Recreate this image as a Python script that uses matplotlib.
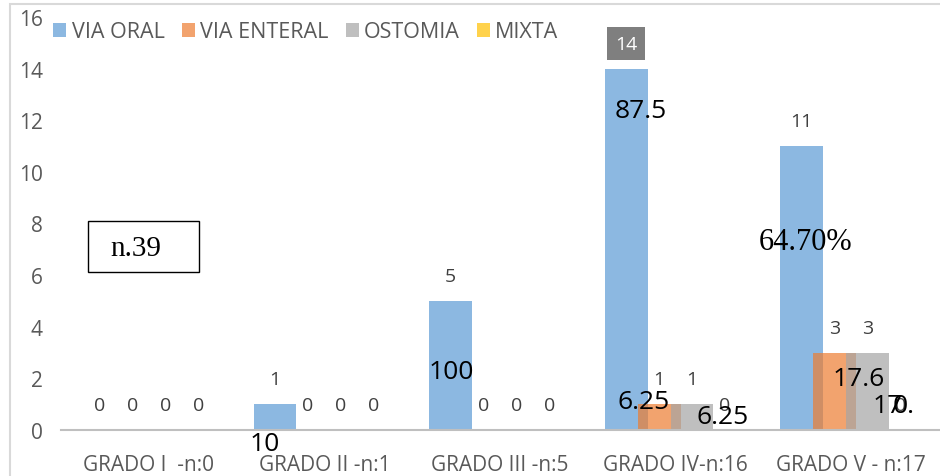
import numpy as np
import matplotlib
matplotlib.use('Agg')
import matplotlib.pyplot as plt
from matplotlib.patches import Rectangle

# data
categories = ['GRADO I  -n:0', 'GRADO II -n:1', 'GRADO III -n:5', 'GRADO IV-n:16', 'GRADO V - n:17']
series_names = ['VIA ORAL', 'VIA ENTERAL', 'OSTOMIA', 'MIXTA']
via_oral = [0, 1, 5, 14, 11]
via_enteral = [0, 0, 0, 1, 3]
ostomia = [0, 0, 0, 1, 3]
mixta = [0, 0, 0, 0, 0]
series_values = [via_oral, via_enteral, ostomia, mixta]
colors = ['#5B9BD5', '#ED7D31', '#A5A5A5', '#FFC000']

# percentage labels pasted on top of the chart (x in category units, y in value units)
pct_text = ['10', '100', '87.5', '6.25', '6.25', '17.6', '17', '0.']
pct_x = [0.66, 1.72, 2.80, 2.82, 3.27, 4.045, 4.205, 4.30]
pct_y = [-0.54, 2.25, 12.36, 1.09, 0.54, 1.98, 0.93, 0.93]
big_pct_text = '64.70%'
big_pct_pos = (3.74, 7.3)
total_text = 'n.39'

plt.rcParams['font.family'] = ['Open Sans', 'DejaVu Sans']

fig = plt.figure(figsize=(9.4, 4.77), dpi=100)
ax = fig.add_axes([61 / 940, 46 / 477, 878 / 940, 413 / 477])

x = np.arange(len(categories))
width = 0.244
step = 0.1875
for i, (name, vals) in enumerate(zip(series_names, series_values)):
    pos = x + (i - 1.5) * step
    ax.bar(pos, vals, width=width, color=colors[i], alpha=0.7, label=name, zorder=2)
    for px, v in zip(pos, vals):
        if v == 14:
            ax.annotate(str(v), (px, v), xytext=(0, 18), textcoords='offset points',
                        ha='center', va='center', fontsize=14, color='white', zorder=5,
                        bbox=dict(boxstyle='square,pad=0.4', fc='#7F7F7F', ec='none'))
        else:
            ax.annotate(str(v), (px, v), xytext=(0, 18), textcoords='offset points',
                        ha='center', va='center', fontsize=14, color='#404040', zorder=5)

for t, px, py in zip(pct_text, pct_x, pct_y):
    ax.text(px, py, t, ha='center', va='center', fontsize=19, color='black',
            zorder=6, clip_on=False)
ax.text(big_pct_pos[0], big_pct_pos[1], big_pct_text, ha='center', va='center',
        fontsize=22, family='Liberation Serif', color='black', zorder=6)

ax.set_xlim(-0.5, 4.5)
ax.set_ylim(0, 16)
ax.set_yticks(np.arange(0, 17, 2))
ax.set_xticks(x)
ax.set_xticklabels(categories)
ax.tick_params(axis='both', length=0, labelsize=15, labelcolor='#595959')
ax.tick_params(axis='y', pad=13)
ax.tick_params(axis='x', pad=17)
for s in ['top', 'right', 'left']:
    ax.spines[s].set_visible(False)
ax.spines['bottom'].set_color('#BFBFBF')
ax.spines['bottom'].set_linewidth(1.5)
ax.set_facecolor('none')

fig.legend(loc='center left', bbox_to_anchor=(34 / 940, 1 - 33 / 477), ncol=4,
           frameon=False, fontsize=15.5, handlelength=0.6, handleheight=0.6,
           handletextpad=0.25, columnspacing=0.8, labelcolor='#595959')

# outer chart frame
fig.patches.append(Rectangle((10 / 940, -0.1), 1.2, 1.1 - 5 / 477, transform=fig.transFigure,
                             fill=False, ec='#D9D9D9', lw=1.5))

# n.39 box
fig.patches.append(Rectangle((88 / 940, 1 - 273 / 477), 111 / 940, 51 / 477,
                             transform=fig.transFigure, fill=False, ec='black', lw=1))
fig.text(136 / 940, 1 - 249 / 477, total_text, ha='center', va='center', fontsize=21,
         family='Liberation Serif', color='black')

fig.savefig('out.png', dpi=100)
